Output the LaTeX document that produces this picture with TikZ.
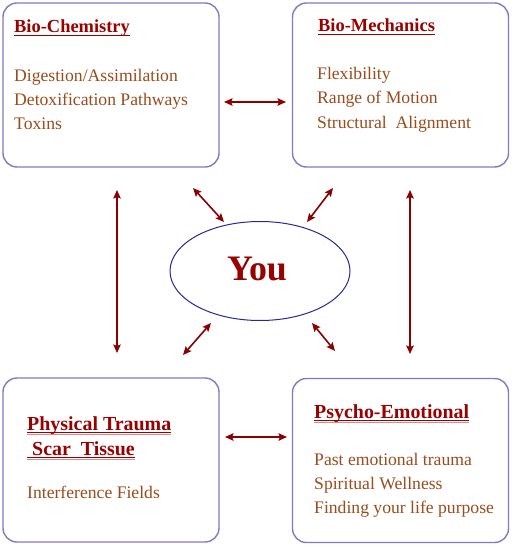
\documentclass[tikz,border=0pt]{standalone}
\usepackage{fontspec}
\setmainfont{Liberation Serif}
\usetikzlibrary{arrows.meta,shapes.geometric,calc}
\definecolor{boxc}{HTML}{8478C4}
\definecolor{ellc}{HTML}{28289A}
\definecolor{headc}{HTML}{990000}
\definecolor{bodyc}{HTML}{9A4C1C}
\definecolor{arrc}{HTML}{8B0000}
\definecolor{ulc}{HTML}{E08A8A}
\begin{document}
\begin{tikzpicture}[x=1bp,y=-1bp,
  panel/.style={draw=boxc,line width=1.4bp,rounded corners=14bp,fill=white,minimum width=216bp,minimum height=164bp,inner sep=0pt},
  head/.style={anchor=base west,inner sep=0pt,text=headc,font=\fontsize{18.5}{22}\selectfont\bfseries},
  bighead/.style={head,font=\fontsize{20}{24}\selectfont\bfseries},
  body/.style={anchor=base west,inner sep=0pt,text=bodyc,font=\fontsize{17.7}{24}\selectfont},
  arr/.style={draw=arrc,line width=1.6bp,{Stealth[length=8.5bp,width=7.5bp,inset=1.5bp]}-{Stealth[length=8.5bp,width=7.5bp,inset=1.5bp]}},
  ul/.style={draw=headc,line width=1.1bp},
  ul2/.style={draw=ulc,line width=1bp}]
\fill[white] (0,0) rectangle (512,545);
\useasboundingbox (0,0) rectangle (512,545);

% panels
\node[panel] (tl) at (111,85) {};
\node[panel] (tr) at (400.5,85) {};
\node[panel] (bl) at (111,460) {};
\node[panel] (br) at (400.5,460.5) {};

% centre
\node[draw=ellc,line width=1bp,ellipse,minimum width=180bp,minimum height=99bp,inner sep=0pt] (you) at (260,271) {};
\node[text=headc,font=\fontsize{36}{40}\selectfont\bfseries] (youtxt) at (257,269) {You};

% headings
\node[head] (h1) at (14,33) {Bio-Chemistry};
\node[head] (h2) at (318,32) {Bio-Mechanics};
\node[bighead] (h3a) at (27,430) {Physical Trauma};
\node[bighead] (h3b) at (27,455) {\ Scar\ \ Tissue};
\node[bighead] (h4) at (314,418) {Psycho-Emotional};
\foreach \h in {h3a,h3b,h4}{
  \draw[ul2] ($(\h.base west)+(0,4.4)$) -- ($(\h.base east)+(0,4.4)$);
}
\foreach \h in {h1,h2,h3a,h3b,h4}{
  \draw[ul] ($(\h.base west)+(0,2.9)$) -- ($(\h.base east)+(0,2.9)$);
}

% body texts
\node[body] (b1a) at (14,82) {Digestion/Assimilation};
\node[body] (b1b) at (14,106) {Detoxification Pathways};
\node[body] (b1c) at (14,130) {Toxins};
\node[body] (b2a) at (317,80) {Flexibility};
\node[body] (b2b) at (317,104) {Range of Motion};
\node[body] (b2c) at (317,129) {Structural\ \ Alignment};
\node[body] (b3a) at (27,498) {Interference Fields};
\node[body] (b4a) at (314,465) {Past emotional trauma};
\node[body] (b4b) at (314,489) {Spiritual Wellness};
\node[body] (b4c) at (314,513) {Finding your life purpose};

% arrow end points
\coordinate (t1) at (224,102); \coordinate (t2) at (286,102);
\coordinate (m1) at (225,437); \coordinate (m2) at (287,437);
\coordinate (l1) at (117,190); \coordinate (l2) at (117,353);
\coordinate (r1) at (410,190); \coordinate (r2) at (410,354);
\coordinate (d1) at (193,188); \coordinate (d2) at (224,222);
\coordinate (e1) at (333,188); \coordinate (e2) at (307,222);
\coordinate (f1) at (183,355); \coordinate (f2) at (211,323);
\coordinate (g1) at (312,323); \coordinate (g2) at (335,351);

\draw[arr] (t1) -- (t2);
\draw[arr] (m1) -- (m2);
\draw[arr] (l1) -- (l2);
\draw[arr] (r1) -- (r2);
\draw[arr] (d1) -- (d2);
\draw[arr] (e1) -- (e2);
\draw[arr] (f1) -- (f2);
\draw[arr] (g1) -- (g2);
\end{tikzpicture}
\end{document}
